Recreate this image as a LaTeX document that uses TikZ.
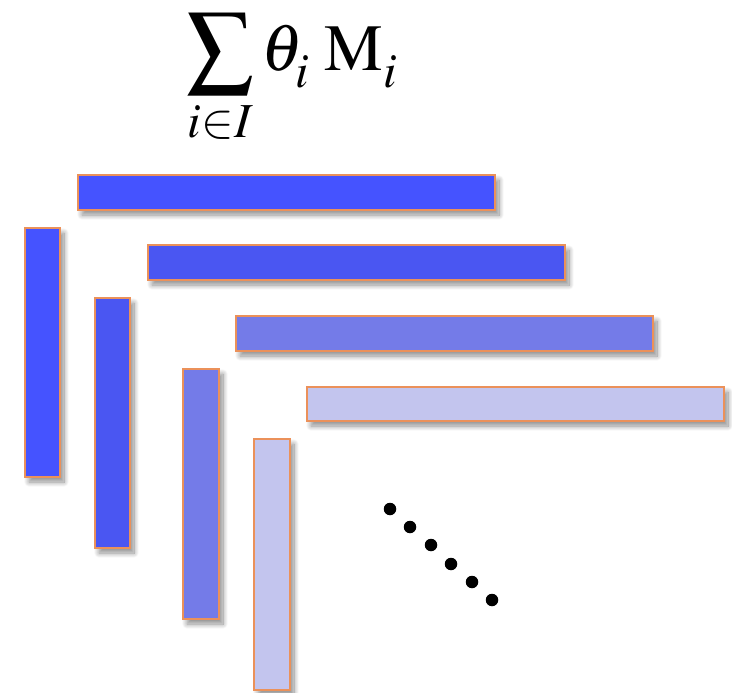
\documentclass[tikz,border=0pt]{standalone}
\usepackage{mathptmx}
\usetikzlibrary{shadows.blur}
\definecolor{cA}{RGB}{69,83,255}
\definecolor{cB}{RGB}{74,86,242}
\definecolor{cC}{RGB}{116,123,232}
\definecolor{cD}{RGB}{195,197,238}
\definecolor{edge}{RGB}{235,145,90}
\newcommand{\lowsub}[1]{\lower7pt\hbox{$\scriptstyle #1$}}
\tikzset{
  bar/.style={draw=edge, line width=1.6pt,
    blur shadow={shadow xshift=4pt, shadow yshift=-5pt, shadow blur steps=12, shadow blur radius=5pt, shadow opacity=45}},
  dotmark/.style={circle, fill=black, inner sep=0pt, minimum size=12.5pt}
}
\begin{document}
\begin{tikzpicture}[x=1pt,y=-1pt]
\useasboundingbox (0,0) rectangle (732,693);
\node (formula) at (292,80) {\fontsize{66}{72}\selectfont$\displaystyle\sum_{i\in I}\theta_{\lowsub{i}}\;\mathrm{M}_{\lowsub{i}}$};
% horizontal bars
\draw[bar, fill=cA] (78,175) rectangle (495,210);
\draw[bar, fill=cB] (148,245) rectangle (565,280);
\draw[bar, fill=cC] (236,316) rectangle (653,351);
\draw[bar, fill=cD] (307,387) rectangle (724,421);
% vertical bars
\draw[bar, fill=cA] (25,228) rectangle (60,477);
\draw[bar, fill=cB] (95,298) rectangle (130,548);
\draw[bar, fill=cC] (183,369) rectangle (219,619);
\draw[bar, fill=cD] (254,439) rectangle (290,690);
% dots
\node[dotmark] (d1) at (390,509) {};
\node[dotmark] (d2) at (410,527) {};
\node[dotmark] (d3) at (431,545) {};
\node[dotmark] (d4) at (451,564) {};
\node[dotmark] (d5) at (472,582) {};
\node[dotmark] (d6) at (492,600) {};
\end{tikzpicture}
\end{document}
